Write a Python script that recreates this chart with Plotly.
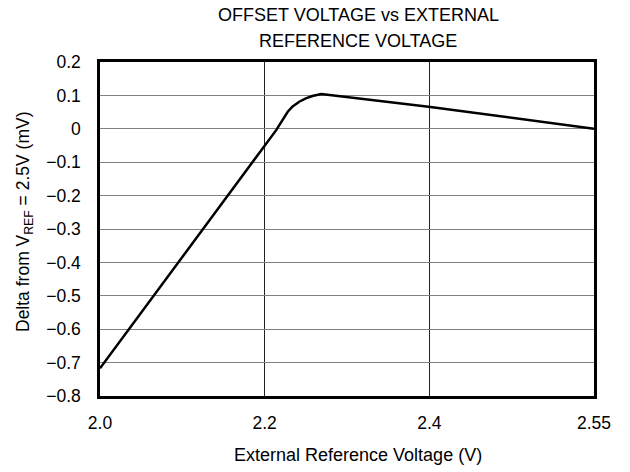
import plotly.graph_objects as go

# Data (x in the chart's evenly spaced axis units; right edge labelled 2.55)
x_vals = [2.0, 2.214, 2.228, 2.234, 2.242, 2.250, 2.258, 2.2687, 2.399, 2.6]
y_vals = [-0.717, -0.004, 0.051, 0.067, 0.081, 0.091, 0.098, 0.104, 0.066, 0.0]

x_tickvals = [2.0, 2.2, 2.4, 2.6]
x_ticktext = ["2.0", "2.2", "2.4", "2.55"]
y_tickvals = [0.2, 0.1, 0, -0.1, -0.2, -0.3, -0.4, -0.5, -0.6, -0.7, -0.8]
title_lines = ["OFFSET VOLTAGE vs EXTERNAL", "REFERENCE VOLTAGE"]
x_title = "External Reference Voltage (V)"
y_title = "Delta from V<sub>REF</sub> = 2.5V (mV)"

FONT = "Liberation Sans, Arial, sans-serif"

fig = go.Figure()
fig.add_trace(go.Scatter(x=x_vals, y=y_vals, mode="lines",
                         line=dict(color="black", width=2.5),
                         showlegend=False, hoverinfo="skip"))

fig.update_layout(
    width=630, height=472,
    margin=dict(l=100, r=36, t=62, b=76, autoexpand=False),
    paper_bgcolor="white", plot_bgcolor="white",
    font=dict(family=FONT, size=17.5, color="black"),
)
for i, t in enumerate(title_lines):
    fig.add_annotation(text=t, xref="paper", yref="paper",
                       x=0.5, y=1.0, xshift=11, yshift=47 - 26 * i, yanchor="middle",
                       xanchor="center", showarrow=False,
                       font=dict(size=18, family=FONT, color="black"))

# axis titles as annotations
fig.add_annotation(text=y_title, xref="paper", yref="paper",
                   x=0.0, y=0.5, xshift=-76, yshift=7,
                   xanchor="center", yanchor="middle", textangle=-90,
                   showarrow=False, font=dict(size=17.5, family=FONT, color="black"))
fig.add_annotation(text=x_title, xref="paper", yref="paper",
                   x=0.5, y=0.0, xshift=11, yshift=-59,
                   xanchor="center", yanchor="middle",
                   showarrow=False, font=dict(size=18, family=FONT, color="black"))

fig.update_xaxes(
    range=[2.0, 2.6], tickvals=x_tickvals, ticktext=x_ticktext,
    showgrid=True, gridcolor="#222222", gridwidth=1.2,
    showline=True, linecolor="black", linewidth=2.5, mirror=True,
    ticks="", ticklabelstandoff=9, zeroline=False, automargin=False,
    tickfont=dict(size=17.5, family=FONT),
)
fig.update_yaxes(
    range=[-0.8, 0.2], tickvals=y_tickvals,
    showgrid=True, gridcolor="#808080", gridwidth=1,
    showline=True, linecolor="black", linewidth=2.5, mirror=True,
    ticks="", ticklabelstandoff=13, zeroline=False, automargin=False,
    tickfont=dict(size=17.5, family=FONT),
)

fig.write_html("out.html", config={"displayModeBar": False},
               post_script="document.body.style.margin='0';")
